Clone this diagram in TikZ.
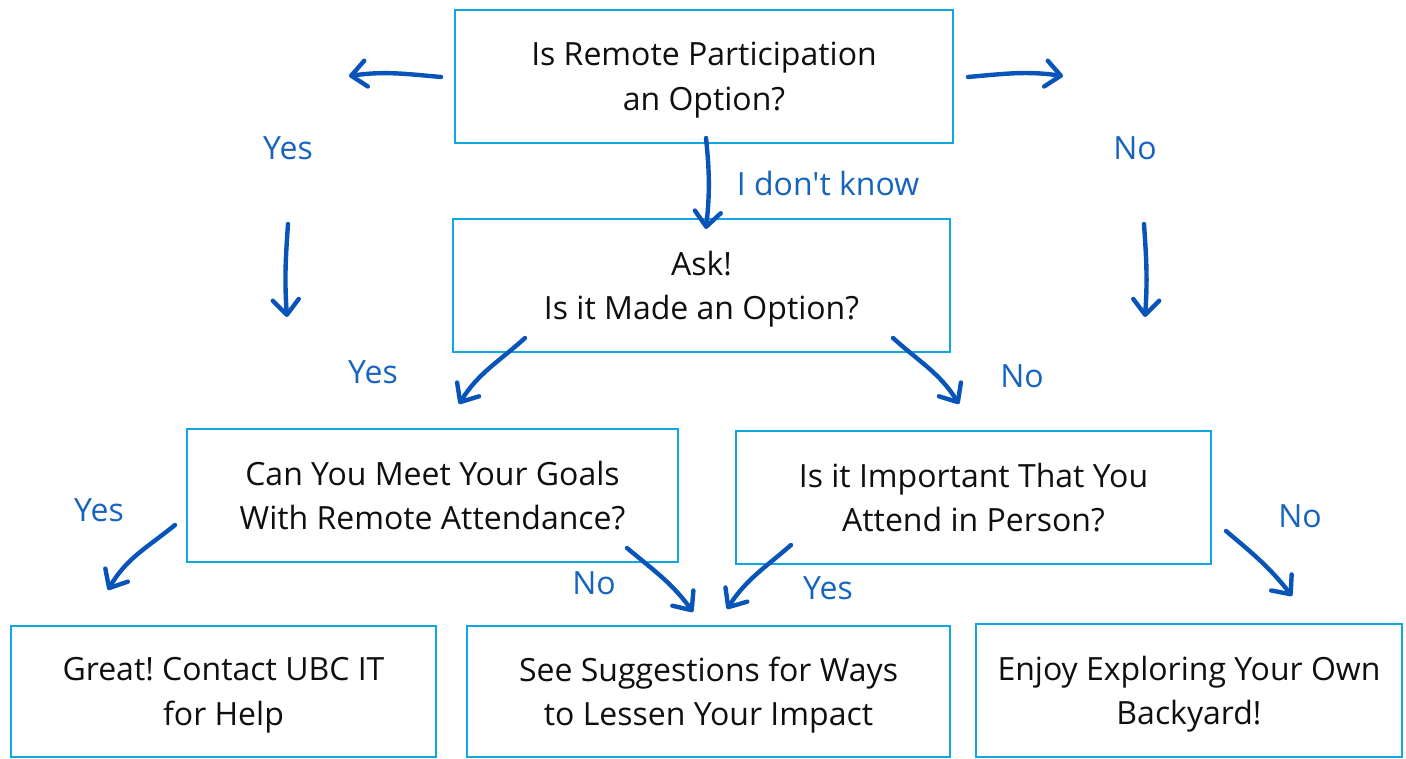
\documentclass[tikz,border=0pt]{standalone}
\usepackage{fontspec}
\setmainfont{Open Sans}[Ligatures=TeXOff]
\usetikzlibrary{arrows.meta,calc}
\definecolor{boxc}{RGB}{16,166,228}
\definecolor{arrc}{RGB}{8,84,184}
\definecolor{labc}{RGB}{22,100,192}
\definecolor{txtc}{RGB}{15,15,15}
\frenchspacing
\begin{document}
\begin{tikzpicture}[x=1pt,y=1pt,
  box/.style={draw=boxc, line width=2.2pt, align=center, inner sep=0pt,
    text depth=0pt, font=\fontsize{32}{44.5}\selectfont, text=txtc},
  arr/.style={draw=arrc, line width=4.4pt, line cap=round,
    -{Straight Barb[length=15pt,width=26pt,line cap=round,line join=round]}},
  lab/.style={text=labc, font=\fontsize{32}{38}\selectfont, inner sep=0pt}]
\useasboundingbox (0,0) rectangle (1406,-759);
% boxes
\node[box, minimum width=498pt, minimum height=133pt] (A) at (704,-76.5)
  {Is Remote Participation\\an Option?};
\node[box, minimum width=497pt, minimum height=133pt] (B) at (701.5,-285.5)
  {Ask!\\Is it Made an Option?};
\node[box, minimum width=491pt, minimum height=133pt] (C) at (432.5,-495.5)
  {Can You Meet Your Goals\\With Remote Attendance?};
\node[box, minimum width=475pt, minimum height=133pt] (D) at (973.5,-497.5)
  {Is it Important That You\\Attend in Person?};
\node[box, minimum width=425pt, minimum height=131pt] (E) at (223.5,-691.5)
  {Great! Contact UBC IT\\for Help};
\node[box, minimum width=483pt, minimum height=131pt] (F) at (708.5,-691.5)
  {See Suggestions for Ways\\to Lessen Your Impact};
\node[box, minimum width=426pt, minimum height=133pt] (G) at (1189,-690.5)
  {Enjoy Exploring Your Own\\Backyard!};
% labels
\node[lab] (l1) at (288,-148) {Yes};
\node[lab] (l2) at (1135,-148) {No};
\node[lab] (l3) at (828,-184) {I don't know};
\node[lab] (l4) at (373,-372) {Yes};
\node[lab] (l5) at (1022,-376) {No};
\node[lab] (l6) at (99,-510) {Yes};
\node[lab] (l7) at (594,-583) {No};
\node[lab] (l8) at (828,-588) {Yes};
\node[lab] (l9) at (1300,-516) {No};
% arrow end points
\coordinate (a1s) at (441,-77);  \coordinate (a1e) at (349,-76);
\coordinate (a2s) at (968,-77);  \coordinate (a2e) at (1063,-76);
\coordinate (a3s) at (706,-138); \coordinate (a3e) at (706,-229);
\coordinate (a4s) at (288,-224); \coordinate (a4e) at (287,-317);
\coordinate (a5s) at (1144,-224);\coordinate (a5e) at (1145,-317);
\coordinate (b1s) at (525,-338); \coordinate (b1e) at (459,-404);
\coordinate (b2s) at (893,-338); \coordinate (b2e) at (959,-404);
\coordinate (c1s) at (175,-525); \coordinate (c1e) at (108,-590);
\coordinate (c2s) at (627,-548); \coordinate (c2e) at (693,-612);
\coordinate (d1s) at (791,-545); \coordinate (d1e) at (727,-609);
\coordinate (d2s) at (1226,-531);\coordinate (d2e) at (1292,-596);
% arrows
\draw[arr] (a1s) to[out=175,in=8] (a1e);
\draw[arr] (a2s) to[out=5,in=172] (a2e);
\draw[arr] (a3s) to[out=-84,in=84] (a3e);
\draw[arr] (a4s) to[out=-94,in=94] (a4e);
\draw[arr] (a5s) to[out=-86,in=86] (a5e);
\draw[arr] (b1s) to[out=222,in=58] (b1e);
\draw[arr] (b2s) to[out=-42,in=122] (b2e);
\draw[arr] (c1s) to[out=219,in=60] (c1e);
\draw[arr] (c2s) to[out=-40,in=126] (c2e);
\draw[arr] (d1s) to[out=221,in=57] (d1e);
\draw[arr] (d2s) to[out=-40,in=128] (d2e);
\end{tikzpicture}
\end{document}
